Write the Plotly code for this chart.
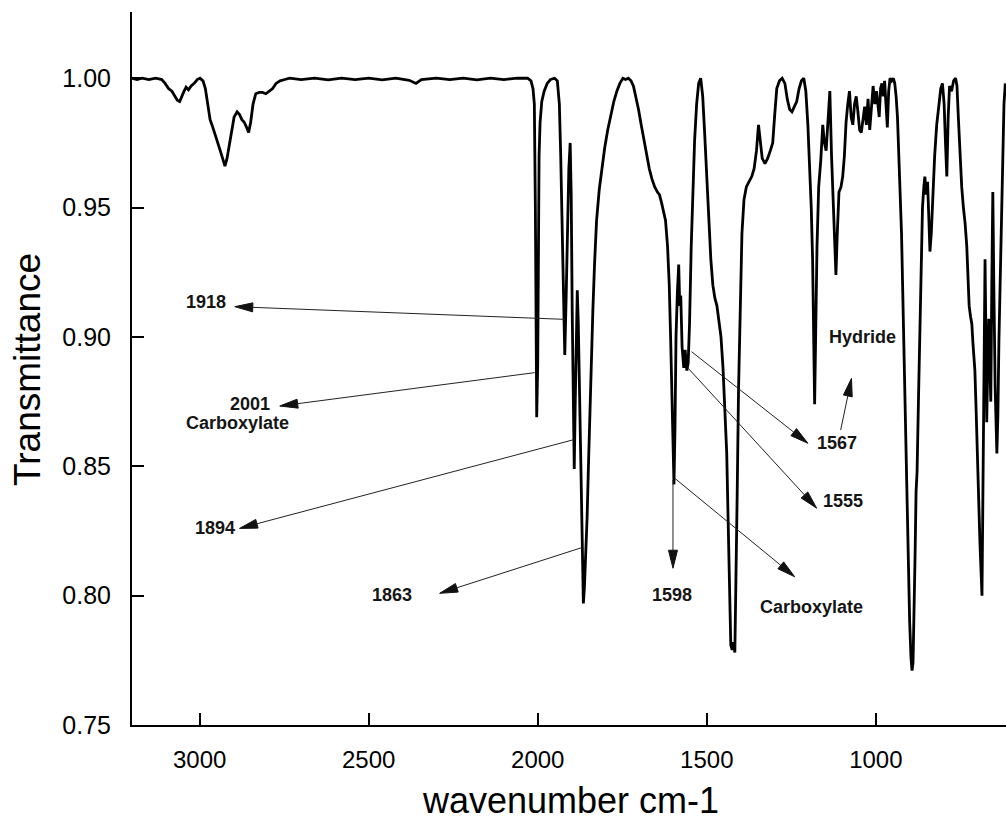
import plotly.graph_objects as go

# IR spectrum: wavenumber (cm-1) and transmittance
wavenumber = [
    3200, 3185, 3170, 3150, 3130, 3112, 3102, 3092, 3082, 3074, 3066, 3059, 3053, 3046, 3040,
    3033, 3025, 3016, 3007, 2999, 2990, 2983, 2976, 2969, 2961, 2953, 2946, 2939, 2932, 2925,
    2919, 2913, 2906, 2898, 2889, 2882, 2875, 2868, 2861, 2855, 2849, 2842, 2834, 2824, 2814,
    2804, 2794, 2784, 2774, 2762, 2748, 2734, 2700, 2660, 2620, 2580, 2540, 2500, 2460, 2420,
    2380, 2360, 2344, 2300, 2260, 2220, 2180, 2140, 2100, 2060, 2030, 2020, 2014, 2010, 2007,
    2005, 2003, 2000, 1998, 1996, 1993, 1988, 1981, 1972, 1962, 1950, 1942, 1936, 1932, 1928,
    1925, 1920, 1916, 1912, 1908, 1904, 1901, 1898, 1895, 1892, 1889, 1886, 1883, 1880, 1876,
    1872, 1868, 1865, 1862, 1858, 1854, 1850, 1846, 1842, 1837, 1832, 1826, 1818, 1810, 1802,
    1793, 1784, 1775, 1766, 1757, 1748, 1740, 1732, 1724, 1717, 1710, 1702, 1694, 1686, 1678,
    1670, 1662, 1654, 1646, 1640, 1634, 1628, 1622, 1616, 1611, 1607, 1603, 1600, 1597, 1594,
    1591, 1587, 1583, 1580, 1577, 1573, 1568, 1564, 1559, 1555, 1551, 1546, 1541, 1536, 1530,
    1524, 1518, 1512, 1506, 1500, 1494, 1488, 1482, 1476, 1470, 1464, 1458, 1452, 1446, 1441,
    1437, 1433, 1429, 1425, 1421, 1417, 1414, 1410, 1406, 1401, 1396, 1390, 1383, 1375, 1367,
    1360, 1353, 1347, 1342, 1336, 1328, 1320, 1312, 1305, 1299, 1293, 1285, 1277, 1269, 1262,
    1255, 1248, 1241, 1234, 1227, 1220, 1213, 1207, 1201, 1196, 1191, 1187, 1184, 1181, 1178,
    1174, 1169, 1163, 1157, 1152, 1147, 1141, 1136, 1131, 1127, 1122, 1118, 1114, 1109, 1103,
    1098, 1093, 1088, 1083, 1078, 1073, 1068, 1063, 1058, 1053, 1048, 1043, 1038, 1033, 1028,
    1023, 1018, 1013, 1008, 1003, 998, 994, 990, 986, 982, 978, 974, 970, 966, 962,
    958, 953, 948, 944, 940, 936, 932, 928, 924, 920, 916, 912, 908, 904, 900,
    896, 893, 890, 887, 884, 881, 878, 874, 870, 866, 862, 858, 855, 851, 847,
    843, 840, 836, 832, 826, 820, 814, 808, 803, 798, 794, 790, 786, 782, 776,
    770, 764, 760, 756, 751, 746, 741, 736, 731, 728, 724, 720, 716, 713, 710,
    707, 703, 698, 692, 686, 683, 680, 677, 674, 672, 669, 666, 663, 660, 657,
    654, 651, 647, 642, 639, 636, 631, 627, 624, 621, 617,
]
transmittance = [
    1.000, 0.9995, 1.000, 0.9995, 1.000, 0.9995, 0.998, 0.996, 0.995, 0.993, 0.9915, 0.991, 0.993, 0.995, 0.9965,
    0.9955, 0.997, 0.998, 0.9995, 1.000, 0.999, 0.996, 0.990, 0.984, 0.981, 0.978, 0.975, 0.972, 0.969, 0.966,
    0.969, 0.974, 0.980, 0.985, 0.987, 0.986, 0.984, 0.983, 0.981, 0.979, 0.983, 0.990, 0.994, 0.9945, 0.9945,
    0.994, 0.995, 0.996, 0.998, 0.999, 0.9995, 1.000, 0.9995, 1.000, 0.9994, 1.000, 0.9995, 1.000, 0.9994, 1.000,
    0.9992, 0.998, 0.9995, 1.000, 0.9995, 1.000, 0.9994, 1.000, 0.9995, 1.000, 1.000, 0.999, 0.996, 0.990, 0.950,
    0.900, 0.869, 0.890, 0.940, 0.970, 0.983, 0.991, 0.995, 0.998, 0.9995, 1.000, 0.999, 0.990, 0.970, 0.945,
    0.915, 0.893, 0.915, 0.945, 0.965, 0.975, 0.955, 0.910, 0.870, 0.849, 0.875, 0.905, 0.918, 0.905, 0.875,
    0.845, 0.815, 0.797, 0.803, 0.815, 0.830, 0.850, 0.870, 0.890, 0.910, 0.928, 0.945, 0.957, 0.966, 0.973,
    0.980, 0.986, 0.991, 0.995, 0.998, 1.000, 0.9995, 1.000, 0.999, 0.997, 0.993, 0.988, 0.982, 0.976, 0.970,
    0.965, 0.961, 0.958, 0.956, 0.955, 0.952, 0.949, 0.945, 0.935, 0.920, 0.900, 0.875, 0.855, 0.843, 0.865,
    0.900, 0.917, 0.928, 0.912, 0.916, 0.896, 0.888, 0.895, 0.887, 0.890, 0.905, 0.935, 0.958, 0.976, 0.990,
    0.998, 1.000, 0.993, 0.978, 0.962, 0.946, 0.930, 0.920, 0.915, 0.912, 0.906, 0.900, 0.888, 0.872, 0.855,
    0.830, 0.800, 0.781, 0.779, 0.782, 0.778, 0.800, 0.840, 0.880, 0.915, 0.940, 0.953, 0.958, 0.960, 0.962,
    0.965, 0.972, 0.982, 0.976, 0.969, 0.967, 0.969, 0.972, 0.975, 0.986, 0.996, 0.999, 1.000, 0.998, 0.992,
    0.988, 0.987, 0.989, 0.991, 0.996, 0.999, 1.000, 0.995, 0.982, 0.966, 0.950, 0.930, 0.900, 0.874, 0.900,
    0.935, 0.958, 0.968, 0.982, 0.975, 0.972, 0.985, 0.995, 0.970, 0.956, 0.935, 0.924, 0.940, 0.956, 0.958,
    0.962, 0.970, 0.983, 0.990, 0.995, 0.985, 0.982, 0.990, 0.993, 0.987, 0.980, 0.979, 0.985, 0.989, 0.982,
    0.992, 0.980, 0.990, 0.997, 0.990, 0.995, 0.990, 0.985, 0.996, 0.998, 0.993, 0.999, 0.990, 0.981, 0.995,
    1.000, 0.999, 1.000, 0.998, 0.993, 0.985, 0.972, 0.960, 0.940, 0.915, 0.890, 0.860, 0.830, 0.810, 0.790,
    0.776, 0.771, 0.774, 0.790, 0.815, 0.840, 0.848, 0.875, 0.905, 0.935, 0.950, 0.958, 0.962, 0.955, 0.960,
    0.945, 0.933, 0.940, 0.955, 0.970, 0.982, 0.990, 0.996, 0.998, 0.990, 0.975, 0.962, 0.985, 0.997, 0.995,
    0.999, 1.000, 0.997, 0.985, 0.970, 0.958, 0.950, 0.944, 0.935, 0.921, 0.912, 0.908, 0.905, 0.898, 0.892,
    0.887, 0.870, 0.844, 0.820, 0.800, 0.840, 0.898, 0.930, 0.895, 0.867, 0.890, 0.907, 0.890, 0.875, 0.920,
    0.956, 0.920, 0.880, 0.855, 0.870, 0.898, 0.930, 0.944, 0.970, 0.990, 0.998,
]

x_tick_values = [3000, 2500, 2000, 1500, 1000]
y_tick_values = [0.75, 0.80, 0.85, 0.90, 0.95, 1.00]

# Peak callouts: label, label position, arrow tail (on the band), arrow head (near the label)
callouts = [
    ("1918", (2980, 0.9136), (1920, 0.9068), (2896, 0.9117)),
    ("2001", (2852, 0.8740), (2009, 0.8862), (2763, 0.8733)),
    ("1894", (2954, 0.8260), (1896, 0.8602), (2882, 0.8260)),
    ("1863", (2431, 0.8003), (1871, 0.8185), (2290, 0.8009)),
    ("1567", (1116, 0.8591), (1545, 0.8943), (1201, 0.8589)),
    ("1555", (1097, 0.8367), (1555, 0.8879), (1175, 0.8338)),
    ("1598", (1604, 0.8003), (1600, 0.8447), (1600, 0.8106)),
    ("Carboxylate", (1190, 0.7957), (1595, 0.8454), (1240, 0.8073)),
    ("Hydride", (1038, 0.9001), (1104, 0.8640), (1072, 0.8840)),
]
extra_labels = [("Carboxylate", (2887, 0.8668))]

W, H = 1006, 825
MARGIN = dict(l=132, r=0, t=12, b=100)
X_RANGE = [3200, 615]
Y_RANGE = [0.75, 1.0256]
PLOT_W = W - MARGIN["l"] - MARGIN["r"]
PLOT_H = H - MARGIN["t"] - MARGIN["b"]


def to_px(x, y):
    px = MARGIN["l"] + (x - X_RANGE[0]) / (X_RANGE[1] - X_RANGE[0]) * PLOT_W
    py = MARGIN["t"] + (Y_RANGE[1] - y) / (Y_RANGE[1] - Y_RANGE[0]) * PLOT_H
    return px, py


def to_data(px, py):
    x = X_RANGE[0] + (px - MARGIN["l"]) / PLOT_W * (X_RANGE[1] - X_RANGE[0])
    y = Y_RANGE[1] - (py - MARGIN["t"]) / PLOT_H * (Y_RANGE[1] - Y_RANGE[0])
    return x, y


fig = go.Figure()
fig.add_trace(go.Scatter(
    x=wavenumber, y=transmittance, mode="lines",
    line=dict(color="black", width=2.8), hoverinfo="skip", showlegend=False,
))

LABEL_FONT = dict(family="Liberation Sans, Arial, sans-serif", size=18, color="#151515", weight="bold")
HEAD_LEN, HEAD_HALF = 18.0, 4.5

shapes = []
annotations = []
for text, (lx, ly), (tx, ty), (hx, hy) in callouts:
    tpx, tpy = to_px(tx, ty)
    hpx, hpy = to_px(hx, hy)
    dx, dy = hpx - tpx, hpy - tpy
    length = (dx * dx + dy * dy) ** 0.5
    ux, uy = dx / length, dy / length
    nx, ny = -uy, ux
    bx, by = hpx - HEAD_LEN * ux, hpy - HEAD_LEN * uy
    b_data = to_data(bx, by)
    shapes.append(dict(type="line", xref="x", yref="y", x0=tx, y0=ty, x1=b_data[0], y1=b_data[1],
                       line=dict(color="#222", width=1)))
    p1 = to_data(bx + HEAD_HALF * nx, by + HEAD_HALF * ny)
    p2 = to_data(bx - HEAD_HALF * nx, by - HEAD_HALF * ny)
    path = f"M{hx},{hy} L{p1[0]},{p1[1]} L{p2[0]},{p2[1]} Z"
    shapes.append(dict(type="path", xref="x", yref="y", path=path,
                       fillcolor="#111", line=dict(color="#111", width=1)))
    annotations.append(dict(x=lx, y=ly, xref="x", yref="y", text=text, showarrow=False,
                            font=LABEL_FONT, xanchor="center", yanchor="middle"))

for text, (lx, ly) in extra_labels:
    annotations.append(dict(x=lx, y=ly, xref="x", yref="y", text=text, showarrow=False,
                            font=LABEL_FONT, xanchor="center", yanchor="middle"))

# Axis titles
annotations.append(dict(x=(570 - MARGIN["l"]) / PLOT_W, y=-(801 - (H - MARGIN["b"])) / PLOT_H,
                        xref="paper", yref="paper", text="wavenumber cm-1", showarrow=False,
                        font=dict(family="Liberation Sans, Arial, sans-serif", size=36, color="black"),
                        xanchor="center", yanchor="middle"))
annotations.append(dict(x=(28 - MARGIN["l"]) / PLOT_W, y=((H - MARGIN["b"]) - 370) / PLOT_H,
                        xref="paper", yref="paper", text="Transmittance", showarrow=False, textangle=-90,
                        font=dict(family="Liberation Sans, Arial, sans-serif", size=37, color="black"),
                        xanchor="center", yanchor="middle"))

fig.update_layout(
    width=W, height=H, autosize=False,
    margin=MARGIN,
    paper_bgcolor="white", plot_bgcolor="white",
    shapes=shapes, annotations=annotations,
    xaxis=dict(
        range=X_RANGE, showgrid=False, zeroline=False,
        showline=True, linecolor="black", linewidth=2,
        ticks="inside", ticklen=12, tickwidth=2, tickcolor="black",
        tickvals=x_tick_values, ticktext=[str(v) for v in x_tick_values],
        tickfont=dict(family="Liberation Sans, Arial, sans-serif", size=24, color="black"),
        ticklabelstandoff=12,
    ),
    yaxis=dict(
        range=Y_RANGE, showgrid=False, zeroline=False,
        showline=True, linecolor="black", linewidth=2,
        ticks="inside", ticklen=12, tickwidth=2, tickcolor="black",
        tickvals=y_tick_values, ticktext=[f"{v:.2f}" for v in y_tick_values],
        tickfont=dict(family="Liberation Sans, Arial, sans-serif", size=25, color="black"),
        ticklabelstandoff=14,
    ),
)

fig.write_html("out.html")
